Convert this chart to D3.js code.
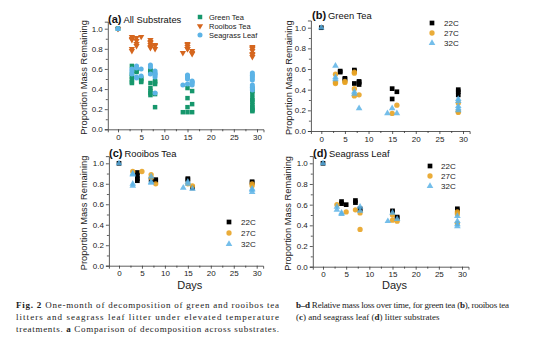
<!DOCTYPE html>
<html>
<head>
<meta charset="utf-8">
<script src="https://cdn.jsdelivr.net/npm/d3@7"></script>
<style>
  html, body { margin: 0; padding: 0; background: #fff; }
  svg { display: block; font-family: "Liberation Sans", Arial, sans-serif; }
  .cap { font-family: "Liberation Serif", "Times New Roman", serif; font-size: 9px; fill: #222; }
</style>
</head>
<body>
<svg id="fig" width="554" height="342"></svg>
<script>
// ─── Data: [day, proportion mass remaining] ─────────────
const greenTea22 = [[0,1.0],[4,0.58],[4,0.57],[5,0.51],[5,0.50],[7,0.59],[7,0.58],[7,0.46],[8,0.48],[8,0.47],[8,0.45],[15,0.41],[15,0.31],[16,0.38],[29,0.40],[29,0.38],[29,0.35]];
const greenTea27 = [[3,0.55],[3,0.47],[3,0.46],[5,0.48],[5,0.47],[7,0.57],[7,0.56],[7,0.41],[7,0.34],[8,0.35],[15,0.17],[16,0.25],[29,0.27],[29,0.19],[29,0.18]];
const greenTea32 = [[0,1.0],[3,0.63],[3,0.52],[3,0.50],[7,0.38],[7,0.36],[8,0.22],[14,0.17],[15,0.22],[16,0.17],[29,0.31],[29,0.29],[29,0.24],[29,0.22],[29,0.20]];

const rooibos22 = [[0,1.0],[4,0.91],[4,0.88],[4,0.85],[4,0.83],[7,0.84],[8,0.84],[8,0.83],[15,0.85],[15,0.84],[16,0.76],[29,0.82],[29,0.81]];
const rooibos27 = [[3,0.92],[5,0.92],[7,0.89],[7,0.86],[8,0.80],[15,0.80],[16,0.78],[29,0.80],[29,0.78]];
const rooibos32 = [[0,1.0],[3,0.90],[3,0.89],[3,0.80],[3,0.78],[7,0.87],[7,0.82],[7,0.81],[14,0.76],[15,0.82],[15,0.80],[16,0.75],[29,0.75],[29,0.74],[29,0.72]];

const seagrass22 = [[0,1.0],[4,0.63],[4,0.61],[5,0.60],[7,0.64],[7,0.62],[8,0.56],[8,0.55],[15,0.54],[15,0.53],[16,0.48],[16,0.47],[29,0.56],[29,0.54]];
const seagrass27 = [[3,0.60],[5,0.53],[7,0.55],[8,0.52],[8,0.36],[15,0.50],[15,0.45],[16,0.44],[29,0.53],[29,0.51],[29,0.42]];
const seagrass32 = [[0,1.0],[3,0.58],[3,0.55],[4,0.52],[4,0.51],[8,0.58],[8,0.54],[14,0.44],[15,0.52],[16,0.46],[29,0.49],[29,0.44],[29,0.41],[29,0.39]];

const substrateLabels = ['Green Tea', 'Rooibos Tea', 'Seagrass Leaf'];
const tempLabels = ['22C', '27C', '32C'];
const xTicks = [0, 5, 10, 15, 20, 25, 30];
const yTicks = [0, 0.2, 0.4, 0.6, 0.8, 1.0];

// ─── Styles ────────────────────────────────────
const subStyle = [
  { shape: d3.symbolSquare,   size: 20, rot: 0,   fill: '#16976c' },
  { shape: d3.symbolTriangle, size: 17, rot: 180, fill: '#d5661e' },
  { shape: d3.symbolCircle,   size: 20, rot: 0,   fill: '#5cb3e6' }
];
const tempStyle = [
  { shape: d3.symbolSquare,   size: 22, rot: 0, fill: '#000000', op: 1 },
  { shape: d3.symbolCircle,   size: 22, rot: 0, fill: '#e8a323', op: 0.9 },
  { shape: d3.symbolTriangle, size: 19, rot: 0, fill: '#5cb3e6', op: 0.85 }
];

const svg = d3.select('#fig');

// ─── Panel drawing ─────────────────────────────
function drawPanel(p) {
  const x = d3.scaleLinear().domain([0, 30]).range([p.x0, p.x30]);
  const y = d3.scaleLinear().domain([0, 1]).range([p.y0, p.y1]);
  const xa = d3.scaleLinear().domain([-2.2, 31.4]).range([x(-2.2), x(31.4)]);
  const ya = d3.scaleLinear().domain([0, 1.07]).range([y(0), y(1.07)]);
  const g = svg.append('g');

  // axes
  g.append('g').attr('transform', `translate(0,${y(0)})`)
    .call(d3.axisBottom(xa).tickValues(xTicks).tickSize(3).tickPadding(2).tickFormat(d3.format('d')));
  g.append('g').attr('transform', `translate(0,${y(0)})`)
    .call(d3.axisBottom(xa).tickValues([2.5, 7.5, 12.5, 17.5, 22.5, 27.5]).tickSize(2).tickFormat(''))
    .select('.domain').remove();
  g.append('g').attr('transform', `translate(${xa(-2.2)},0)`)
    .call(d3.axisLeft(ya).tickValues(yTicks).tickSize(3).tickPadding(2).tickFormat(d3.format('.1f')));
  g.append('g').attr('transform', `translate(${xa(-2.2)},0)`)
    .call(d3.axisLeft(ya).tickValues([0.1, 0.3, 0.5, 0.7, 0.9]).tickSize(2).tickFormat(''))
    .select('.domain').remove();
  g.selectAll('.domain, .tick line').attr('stroke', '#333').attr('stroke-width', 0.8);
  g.selectAll('.tick text').attr('font-size', 8).attr('fill', '#222')
    .attr('font-family', '"Liberation Sans", Arial, sans-serif');

  // axis titles
  g.append('text')
    .attr('transform', `translate(${p.ytx},${(y(0) + y(1.07)) / 2 + 2}) rotate(-90)`)
    .attr('text-anchor', 'middle').attr('font-size', 9.3).attr('fill', '#222')
    .text('Proportion Mass Remaining');
  if (p.days) {
    g.append('text').attr('x', (x(0) + x(30)) / 2 + 2).attr('y', p.daysY)
      .attr('text-anchor', 'middle').attr('font-size', 11).attr('fill', '#222').text('Days');
  }

  // panel title
  const t = g.append('text').attr('x', p.tx).attr('y', p.ty).attr('fill', '#111');
  t.append('tspan').attr('font-weight', 'bold').attr('font-size', 11).text(p.letter);
  t.append('tspan').attr('font-size', 9.4).attr('dx', 2).text(p.title);

  // points
  p.series.forEach((s, i) => {
    const st = p.styles[i];
    g.append('g').selectAll('path').data(s).enter().append('path')
      .attr('d', d3.symbol().type(st.shape).size(st.size))
      .attr('transform', d => `translate(${x(d[0])},${y(d[1])}) rotate(${st.rot})`)
      .attr('fill', st.fill).attr('fill-opacity', st.op || 1);
  });

  // legend
  p.labels.forEach((lab, i) => {
    const st = p.styles[i];
    const ly = p.ly + i * p.lstep;
    g.append('path')
      .attr('d', d3.symbol().type(st.shape).size(st.size))
      .attr('transform', `translate(${p.lx},${ly}) rotate(${st.rot})`)
      .attr('fill', st.fill).attr('fill-opacity', st.op || 1);
    g.append('text').attr('x', p.lx + p.lgap).attr('y', ly + 3)
      .attr('font-size', p.lfont).attr('fill', '#222').text(lab);
  });
}

drawPanel({
  x0: 118, x30: 257, y0: 129.3, y1: 28.7, ytx: 87, tx: 108, ty: 23,
  letter: '(a)', title: 'All Substrates',
  series: [greenTea22.concat(greenTea27, greenTea32), rooibos22.concat(rooibos27, rooibos32), seagrass22.concat(seagrass27, seagrass32)],
  styles: subStyle, labels: substrateLabels,
  lx: 200, ly: 17, lstep: 9, lgap: 9, lfont: 7.5
});
drawPanel({
  x0: 321.3, x30: 463, y0: 131, y1: 27.7, ytx: 292, tx: 312, ty: 19,
  letter: '(b)', title: 'Green Tea',
  series: [greenTea22, greenTea27, greenTea32], styles: tempStyle, labels: tempLabels,
  lx: 432, ly: 23, lstep: 10, lgap: 12, lfont: 8
});
drawPanel({
  x0: 119, x30: 256.7, y0: 265.7, y1: 163.3, ytx: 87, tx: 109, ty: 157, days: true, daysY: 289,
  letter: '(c)', title: 'Rooibos Tea',
  series: [rooibos22, rooibos27, rooibos32], styles: tempStyle, labels: tempLabels,
  lx: 229, ly: 222, lstep: 11, lgap: 12, lfont: 8
});
drawPanel({
  x0: 323, x30: 462, y0: 266.7, y1: 163.3, ytx: 291, tx: 313, ty: 157, days: true, daysY: 289,
  letter: '(d)', title: 'Seagrass Leaf',
  series: [seagrass22, seagrass27, seagrass32], styles: tempStyle, labels: tempLabels,
  lx: 430, ly: 166, lstep: 10, lgap: 11, lfont: 8
});

// ─── Caption ───────────────────────────────────
function capLine(x, y, parts, width) {
  const t = svg.append('text').attr('class', 'cap').attr('x', x).attr('y', y);
  if (width) t.attr('textLength', width).attr('lengthAdjust', 'spacing');
  parts.forEach(pt => {
    t.append('tspan').attr('font-weight', pt[1] ? 'bold' : 'normal').text(pt[0]);
  });
}
capLine(16, 308, [['Fig. 2', 1], ['  One-month of decomposition of green and rooibos tea', 0]], 263);
capLine(16, 320, [['litters and seagrass leaf litter under elevated temperature', 0]], 263);
capLine(16, 332, [['treatments. ', 0], ['a', 1], [' Comparison of decomposition across substrates.', 0]], 263);
capLine(296, 308, [['b–d', 1], [' Relative mass loss over time, for green tea (', 0], ['b', 1], ['), rooibos tea', 0]], 213);
capLine(296, 320, [['(', 0], ['c', 1], [') and seagrass leaf (', 0], ['d', 1], [') litter substrates', 0]]);
</script>
</body>
</html>
